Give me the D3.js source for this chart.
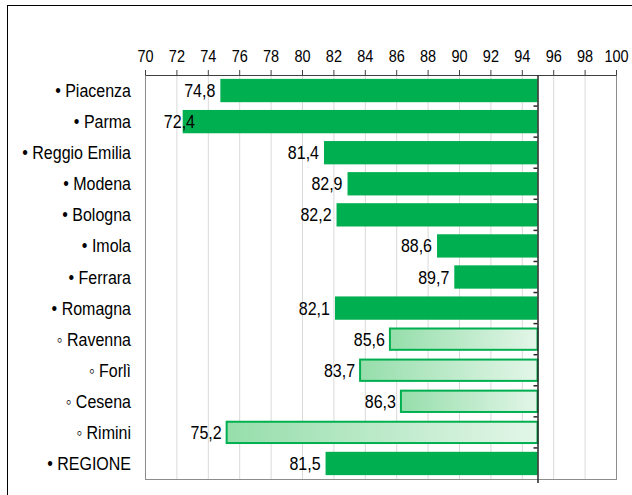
<!DOCTYPE html>
<html>
<head>
<meta charset="utf-8">
<script src="https://cdn.jsdelivr.net/npm/d3@7"></script>
<style>
  body { margin: 0; background: #fff; }
  text { font-family: "Liberation Sans", Arial, sans-serif; }
</style>
</head>
<body>
<div class="chart"></div>
<script>
(function() {
const categories = ['Piacenza', 'Parma', 'Reggio Emilia', 'Modena', 'Bologna', 'Imola', 'Ferrara',
                    'Romagna', 'Ravenna', 'Forlì', 'Cesena', 'Rimini', 'REGIONE'];
const values = [74.8, 72.4, 81.4, 82.9, 82.2, 88.6, 89.7, 82.1, 85.6, 83.7, 86.3, 75.2, 81.5];
// sub-areas of Romagna get the hollow bullet and gradient bar
const isSub = [false, false, false, false, false, false, false, false, true, true, true, true, false];
const target = 95;
const xTicks = d3.range(70, 101, 2);

const W = 632, H = 495,
    margin = {top: 75, left: 145},
    width = 616 - margin.left,
    height = 479 - margin.top;

// text in the original is a bit taller than Arial
const stretch = "scale(1,1.17)";

const svg = d3.select(".chart").append("svg")
    .attr("width", W).attr("height", H);

// outer frame (cut by the window on right/bottom)
svg.append("rect")
    .attr("x", 7.5).attr("y", 5.5)
    .attr("width", 800).attr("height", 800)
    .attr("fill", "none").attr("stroke", "#000");

const defs = svg.append("defs");
const grad = defs.append("linearGradient").attr("id", "subGrad")
    .attr("x1", "0%").attr("x2", "100%").attr("y1", "0%").attr("y2", "0%");
grad.append("stop").attr("offset", "0%").attr("stop-color", "#96deab");
grad.append("stop").attr("offset", "100%").attr("stop-color", "#e3f6e8");

const x = d3.scaleLinear().domain([70, 100]).range([0, width]);
const y = d3.scaleBand().domain(categories).range([0, height]).paddingInner(0.25).paddingOuter(0.125);

const g = svg.append("g")
    .attr("transform", "translate(" + margin.left + "," + margin.top + ")");

// gridlines
g.selectAll(".grid")
    .data(xTicks.slice(1, -1))
    .enter().append("line")
    .attr("x1", d => x(d) + 0.5).attr("x2", d => x(d) + 0.5)
    .attr("y1", 0).attr("y2", height)
    .attr("stroke", "#d9d9d9");

// plot frame
g.append("rect")
    .attr("x", 0.5).attr("y", 0.5)
    .attr("width", width).attr("height", height)
    .attr("fill", "none").attr("stroke", "#8c8c8c");

// top axis
const xAxis = d3.axisTop(x).tickValues(xTicks).tickSize(5).tickSizeOuter(0).tickPadding(6);
const ax = g.append("g").attr("class", "axis axis--x").call(xAxis);
ax.select(".domain").attr("stroke", "#404040");
ax.selectAll(".tick line").attr("stroke", "#404040");
ax.selectAll("text").attr("font-size", 14.5).attr("fill", "#000")
    .attr("font-family", "Liberation Sans, Arial, sans-serif")
    .attr("transform", stretch);

// bars from value to target
g.selectAll(".bar")
    .data(values)
    .enter().append("rect")
    .attr("class", "bar")
    .attr("x", d => x(d))
    .attr("y", (d, i) => y(categories[i]) + (isSub[i] ? 1 : 0))
    .attr("width", d => x(target) - x(d))
    .attr("height", (d, i) => y.bandwidth() - (isSub[i] ? 2 : 0))
    .attr("fill", (d, i) => isSub[i] ? "url(#subGrad)" : "#00b050")
    .attr("stroke", (d, i) => isSub[i] ? "#00b050" : "none")
    .attr("stroke-width", 2);

// category axis line at the target value
g.append("line")
    .attr("x1", x(target) + 0.5).attr("x2", x(target) + 0.5)
    .attr("y1", 0).attr("y2", height + 4)
    .attr("stroke", "#262626").attr("stroke-width", 1.5);
g.selectAll(".ctick")
    .data(categories.slice(1))
    .enter().append("line")
    .attr("x1", x(target) - 4).attr("x2", x(target))
    .attr("y1", d => y(d) - y.step() * y.paddingInner() / 2)
    .attr("y2", d => y(d) - y.step() * y.paddingInner() / 2)
    .attr("stroke", "#262626").attr("stroke-width", 1.5);

// value labels
g.selectAll(".val")
    .data(values)
    .enter().append("text")
    .attr("transform", (d, i) => "translate(" + Math.max(x(d) - 5, x(70) + 50) + "," +
        (y(categories[i]) + y.bandwidth() / 2) + ") " + stretch)
    .attr("dy", "0.35em")
    .attr("text-anchor", "end")
    .attr("font-size", 16)
    .attr("fill", "#000")
    .text(d => d3.format(".1f")(d).replace(".", ","));

// category labels
g.selectAll(".cat")
    .data(categories)
    .enter().append("text")
    .attr("transform", d => "translate(-14," + (y(d) + y.bandwidth() / 2) + ") " + stretch)
    .attr("dy", "0.35em")
    .attr("text-anchor", "end")
    .attr("font-size", 16)
    .attr("fill", "#000")
    .text((d, i) => (isSub[i] ? "◦ " : "• ") + d);
}())
</script>
</body>
</html>
